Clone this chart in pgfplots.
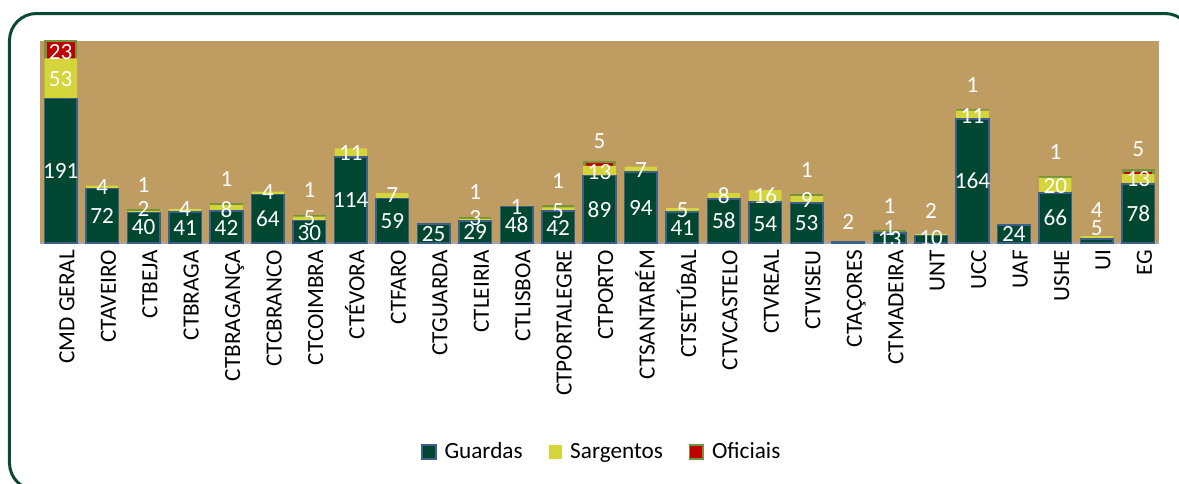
\documentclass[border=0pt]{standalone}
\usepackage{pgfplots}
\pgfplotsset{compat=1.18}
\usepackage{pgfplotstable}
\usepackage{fontspec}
\setmainfont{Carlito}
\definecolor{tanbg}{HTML}{BF9C62}
\definecolor{guarda}{HTML}{004731}
\definecolor{steel}{HTML}{3D5F8C}
\definecolor{sarg}{HTML}{D5D43A}
\definecolor{ofic}{HTML}{C00000}
\definecolor{olive}{HTML}{77933C}
\definecolor{framegreen}{HTML}{0A4A33}
\definecolor{axgrey}{HTML}{A6A6A6}
\newcommand{\lab}{\fontsize{11.6}{13}\selectfont}

% Guardas, Sargentos, Oficiais per category (x = 0..26)
\pgfplotstableread{
x G S O
0 191 53 23
1 72 4 0
2 40 2 1
3 41 4 0
4 42 8 1
5 64 4 0
6 30 5 1
7 114 11 0
8 59 7 0
9 25 0 0
10 29 3 1
11 48 1 0
12 42 5 1
13 89 13 5
14 94 7 0
15 41 5 0
16 58 8 0
17 54 16 0
18 53 9 1
19 2 0 0
20 13 1 1
21 10 2 0
22 164 11 1
23 24 0 0
24 66 20 1
25 5 4 0
26 78 13 5
}\datatab

% categories that have Oficiais
\pgfplotstableread{
x G S O
0 191 53 23
2 40 2 1
4 42 8 1
6 30 5 1
10 29 3 1
12 42 5 1
13 89 13 5
18 53 9 1
20 13 1 1
22 164 11 1
24 66 20 1
26 78 13 5
}\oftab

\pgfplotstableread{
x y l
0 94.2 191
0 215.4 53
0 251.5 23
1 34.8 72
1 72.7 4
2 19.8 40
2 43 2
2 75.3 1
3 18.1 41
3 43.6 4
4 18.9 42
4 42.7 8
4 83.3 1
5 30.4 64
5 65.7 4
6 11.9 30
6 31.7 5
6 68.7 1
7 55.5 114
7 117.2 11
8 28.2 59
8 61.7 7
9 10.6 25
10 12.8 29
10 31.7 3
10 65.7 1
11 22.5 48
11 45.8 1
12 18.9 42
12 41.4 5
12 80.6 1
13 42.7 89
13 92.9 13
13 133.9 5
14 44.9 94
14 95.2 7
15 18.5 41
15 42.3 5
16 28.2 58
16 60.4 8
17 23.8 54
17 60.8 16
18 25.1 53
18 55.5 9
18 95.2 1
19 26.8 2
20 4 13
20 18.5 1
20 47.2 1
21 4.9 10
21 40.6 2
22 80.2 164
22 166.1 11
22 207.5 1
23 10.6 24
24 31.3 66
24 73.6 20
24 118.6 1
25 18.5 5
25 42.3 4
26 37 78
26 83.3 13
26 122.9 5
}\labtab

\begin{document}
\begin{tikzpicture}
\path[use as bounding box] (-20pt,-120pt) rectangle (569.5pt,121.5pt);
\pgfplotsset{base/.style={scale only axis, width=559.5pt, height=101pt,
  xmin=-0.5, xmax=26.5, ymin=0, ymax=267, at={(0pt,0pt)}, anchor=south west}}
% background + Oficiais (top segment, drawn behind the stacked bars)
\begin{axis}[base, axis background/.style={fill=tanbg},
  axis line style={draw=none}, xtick=\empty, ytick=\empty,
  ybar, bar width=15.1pt, bar shift=0pt]
\addplot[fill=ofic, draw=olive, line width=1.2pt]
  table[x=x, y expr=\thisrow{G}+\thisrow{S}+\thisrow{O}] {\oftab};
\end{axis}
% Guardas and Sargentos, stacked
\begin{axis}[base, ybar stacked, bar width=16.3pt,
  axis x line*=bottom, axis y line=none,
  axis line style={-},
  x axis line style={draw=axgrey, line width=1pt},
  xtick={0,...,26},
  xticklabels={CMD GERAL,CTAVEIRO,CTBEJA,CTBRAGA,CTBRAGANÇA,CTCBRANCO,CTCOIMBRA,CTÉVORA,CTFARO,CTGUARDA,CTLEIRIA,CTLISBOA,CTPORTALEGRE,CTPORTO,CTSANTARÉM,CTSETÚBAL,CTVCASTELO,CTVREAL,CTVISEU,CTAÇORES,CTMADEIRA,UNT,UCC,UAF,USHE,UI,EG},
  major tick length=0pt,
  xticklabel style={rotate=90, anchor=east, font=\lab, text height=0.644em, text depth=0pt, yshift=-3.6pt},
  legend image code/.code={\path[#1, line width=0.8pt] (0.3pt,-3.4pt) rectangle (7.1pt,3.4pt);},
  legend style={at={(axis description cs:0.503,-1.035)}, anchor=center, draw=none, fill=none,
    font=\lab, legend columns=-1,
    /tikz/every odd column/.append style={column sep=2pt},
    /tikz/every even column/.append style={column sep=11pt}},
]
\addplot[fill=guarda, draw=steel, line width=0.75pt] table[x=x, y=G] {\datatab};
\addlegendentry{Guardas}
\addplot[fill=sarg, draw=none] table[x=x, y=S] {\datatab};
\addlegendentry{Sargentos}
\addlegendimage{fill=ofic, draw=olive}
\addlegendentry{Oficiais}
\end{axis}
% data labels
\begin{axis}[base, hide axis, clip=true]
\addplot[draw=none, mark=none, nodes near coords, point meta=explicit symbolic,
  every node near coord/.append style={anchor=center, text=white, font=\lab, text height=0.644em, text depth=0pt, inner sep=0pt}]
  table[x=x, y=y, meta=l] {\labtab};
\end{axis}
\draw[framegreen, line width=1.5pt, rounded corners=13.5pt] (-15.25pt,-123.5pt) rectangle (576pt,114.75pt);
\end{tikzpicture}
\end{document}
